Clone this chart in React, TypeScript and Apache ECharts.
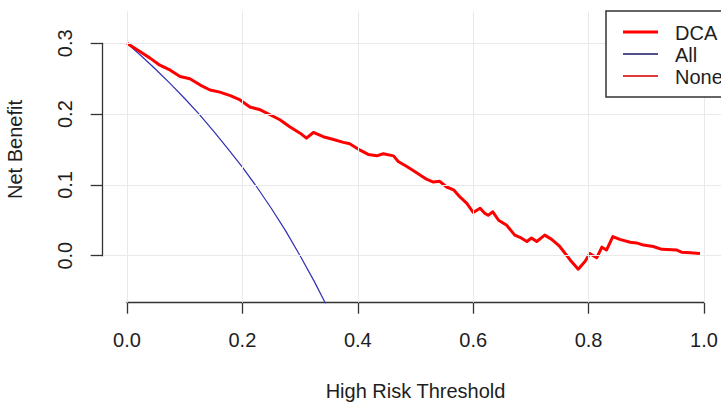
import React, { useEffect, useRef } from "react";
import * as echarts from "echarts";

// Decision curve
const dcaThreshold = [
  0.0, 0.023, 0.04, 0.057, 0.075, 0.092, 0.109, 0.127, 0.144, 0.161, 0.179, 0.196,
  0.213, 0.231, 0.248, 0.265, 0.282, 0.3, 0.311, 0.323, 0.34, 0.358, 0.375, 0.386,
  0.404, 0.418, 0.433, 0.444, 0.462, 0.47, 0.485, 0.502, 0.519, 0.531, 0.542, 0.554,
  0.566, 0.577, 0.589, 0.6, 0.612, 0.62, 0.626, 0.634, 0.644, 0.658, 0.672, 0.681,
  0.693, 0.701, 0.71, 0.724, 0.736, 0.75, 0.768, 0.782, 0.794, 0.802, 0.814, 0.823,
  0.831, 0.842, 0.854, 0.872, 0.883, 0.895, 0.912, 0.927, 0.953, 0.961, 0.976, 0.993,
];
const dcaNetBenefit = [
  0.3, 0.288, 0.279, 0.269, 0.262, 0.253, 0.25, 0.241, 0.234, 0.231, 0.226, 0.22,
  0.21, 0.206, 0.199, 0.192, 0.182, 0.173, 0.166, 0.174, 0.168, 0.164, 0.16, 0.158,
  0.149, 0.143, 0.141, 0.144, 0.141, 0.133, 0.126, 0.117, 0.108, 0.104, 0.105, 0.097,
  0.093, 0.083, 0.074, 0.061, 0.067, 0.06, 0.057, 0.062, 0.05, 0.043, 0.029, 0.026,
  0.02, 0.025, 0.02, 0.029, 0.023, 0.013, -0.006, -0.019, -0.008, 0.003, -0.003, 0.012,
  0.008, 0.027, 0.023, 0.019, 0.018, 0.015, 0.013, 0.009, 0.008, 0.005, 0.004, 0.003,
];

// Treat-all curve
const allThreshold = [
  0.0, 0.025, 0.05, 0.075, 0.1, 0.125, 0.15, 0.175, 0.2, 0.225, 0.25, 0.275, 0.3,
  0.325, 0.35,
];
const allNetBenefit = [
  0.3, 0.282, 0.263, 0.243, 0.222, 0.2, 0.176, 0.151, 0.125, 0.097, 0.067, 0.035,
  0.0, -0.037, -0.077,
];

// Tick values
const xTicks = [0, 0.2, 0.4, 0.6, 0.8, 1.0];
const yTicks = [0, 0.1, 0.2, 0.3];

const legendNames = ["DCA", "All", "None"];

const FONT = "'Liberation Sans', Arial, sans-serif";
const TEXT = "#1e1e1e";
const AXIS = "#333333";
const GRID = "#e9e9e9";

export default function App() {
  const ref = useRef<HTMLDivElement>(null);

  useEffect(() => {
    if (!ref.current) return;
    const chart = echarts.init(ref.current, null, { renderer: "svg" });

    const dcaData = dcaThreshold.map((x, i) => [x, dcaNetBenefit[i]]);
    const allData = allThreshold.map((x, i) => [x, allNetBenefit[i]]);

    const legendColors = ["#ff0000", "#50508a", "#e03a3a"];
    const legendWidths = [3, 2, 2];
    const legendY = [32, 54, 76];
    const legendGraphics: any[] = [
      {
        type: "rect",
        shape: { x: 606, y: 11, width: 130, height: 86 },
        style: { fill: "#ffffff", stroke: "#333333", lineWidth: 1.5 },
        z: 100,
      },
    ];
    legendNames.forEach((name, i) => {
      legendGraphics.push({
        type: "line",
        shape: { x1: 623, y1: legendY[i], x2: 658, y2: legendY[i] },
        style: { stroke: legendColors[i], lineWidth: legendWidths[i] },
        z: 101,
      });
      legendGraphics.push({
        type: "text",
        x: 675,
        y: legendY[i] + 1,
        style: {
          text: name,
          fill: TEXT,
          font: `20px ${FONT}`,
          textAlign: "left",
          textVerticalAlign: "middle",
        },
        z: 101,
      });
    });

    const option: any = {
      animation: false,
      backgroundColor: "#ffffff",
      textStyle: { fontFamily: FONT },
      grid: [
        // plot region
        { left: 103.9, right: -6.1, top: 11.4, bottom: 99.3, containLabel: false, outerBoundsMode: "none" },
        // axis frame (0..1 by 0..0.3)
        { left: 127, right: 17, top: 43.3, bottom: 146.3, containLabel: false, outerBoundsMode: "none" },
      ],
      xAxis: [
        { gridIndex: 0, type: "value", min: -0.04, max: 1.04, show: false },
        {
          gridIndex: 1,
          type: "value",
          min: 0,
          max: 1,
          interval: 0.2,
          position: "bottom",
          offset: 47,
          axisLine: { show: true, onZero: false, lineStyle: { color: AXIS, width: 1.3 } },
          axisTick: { show: true, length: 11, inside: false, lineStyle: { color: AXIS, width: 1.3 } },
          splitLine: { show: false },
          axisLabel: {
            color: TEXT,
            fontSize: 20,
            fontFamily: FONT,
            margin: 27,
            formatter: (v: number) => v.toFixed(1),
          },
          name: "High Risk Threshold",
          nameLocation: "middle",
          nameGap: 78,
          nameTextStyle: { color: TEXT, fontSize: 20, fontFamily: FONT },
        },
      ],
      yAxis: [
        { gridIndex: 0, type: "value", min: -0.0664, max: 0.345, show: false },
        {
          gridIndex: 1,
          type: "value",
          min: 0,
          max: 0.3,
          interval: 0.1,
          position: "left",
          offset: 24.3,
          axisLine: { show: true, onZero: false, lineStyle: { color: AXIS, width: 1.3 } },
          axisTick: { show: true, length: 12, inside: false, lineStyle: { color: AXIS, width: 1.3 } },
          splitLine: { show: false },
          axisLabel: {
            color: TEXT,
            fontSize: 20,
            fontFamily: FONT,
            rotate: 90,
            margin: 28,
            formatter: (v: number) => v.toFixed(1),
          },
          name: "Net Benefit",
          nameLocation: "middle",
          nameRotate: 90,
          nameGap: 78,
          nameTextStyle: { color: TEXT, fontSize: 20, fontFamily: FONT },
        },
      ],
      series: [
        {
          name: "grid",
          type: "line",
          xAxisIndex: 0,
          yAxisIndex: 0,
          data: [[0, 0]],
          showSymbol: false,
          lineStyle: { opacity: 0 },
          silent: true,
          z: 1,
          markLine: {
            silent: true,
            symbol: ["none", "none"],
            label: { show: false },
            lineStyle: { color: GRID, width: 1, type: "solid" },
            data: [
              ...xTicks.map((v) => ({ xAxis: v })),
              ...yTicks.map((v) => ({ yAxis: v })),
            ],
          },
        },
        {
          name: "All",
          type: "line",
          xAxisIndex: 0,
          yAxisIndex: 0,
          data: allData,
          showSymbol: false,
          lineStyle: { color: "#2f2fb4", width: 1.2 },
          z: 3,
        },
        {
          name: "DCA",
          type: "line",
          xAxisIndex: 0,
          yAxisIndex: 0,
          data: dcaData,
          showSymbol: false,
          lineStyle: { color: "#ff0000", width: 3, join: "round" },
          z: 4,
        },
      ],
      graphic: legendGraphics,
    };

    chart.setOption(option);
    return () => chart.dispose();
  }, []);

  return (
    <div
      ref={ref}
      style={{ position: "fixed", left: 0, top: 0, width: 721, height: 402 }}
    />
  );
}
